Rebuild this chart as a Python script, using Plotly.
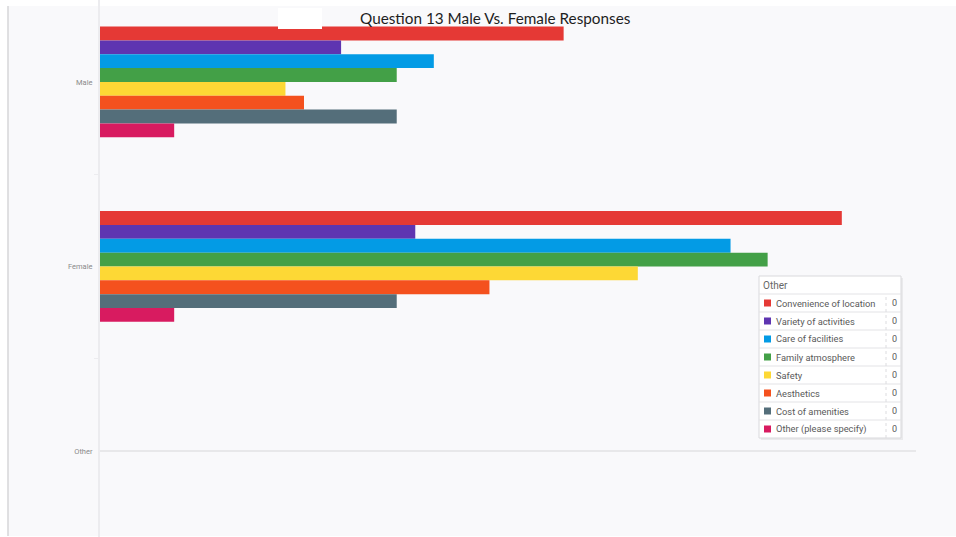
import plotly.graph_objects as go

# Respondent groups (y categories) and answer options (one trace each)
groups = ["Male", "Female", "Other"]
options = [
    "Convenience of location",
    "Variety of activities",
    "Care of facilities",
    "Family atmosphere",
    "Safety",
    "Aesthetics",
    "Cost of amenities",
    "Other (please specify)",
]
male = [25, 13, 18, 16, 10, 11, 16, 4]
female = [40, 17, 34, 36, 29, 21, 16, 4]
other = [0, 0, 0, 0, 0, 0, 0, 0]

colors = ["#e53935", "#5e35b1", "#039be5", "#43a047",
          "#fdd835", "#f4511e", "#546e7a", "#d81b60"]

W, H = 956, 537
ML, MR, MT, MB = 100, 40, 0, 0
PW, PH = W - ML - MR, H - MT - MB


def px(x):
    return (x - ML) / PW


def py(y):
    return 1 - (y - MT) / PH


fig = go.Figure()
for i, name in enumerate(options):
    fig.add_trace(go.Bar(
        y=groups,
        x=[male[i], female[i], other[i]],
        name=name,
        orientation="h",
        marker=dict(color=colors[i], line=dict(width=0)),
        showlegend=False,
    ))

shapes = [
    # page background and left border
    dict(type="rect", xref="paper", yref="paper", x0=px(8), x1=px(W), y0=py(536), y1=py(6),
         fillcolor="#f9f9fb", line=dict(width=0), layer="below"),
    dict(type="line", xref="paper", yref="paper", x0=px(8), x1=px(8), y0=py(536), y1=py(6),
         line=dict(color="#d6d6d9", width=1.5), layer="below"),
    # baseline for the "Other" row
    dict(type="line", xref="x", yref="y", x0=0, x1=44, y0=2, y1=2,
         line=dict(color="#e2e2e5", width=1.5), layer="below"),
    # white patch by the title
    dict(type="rect", xref="paper", yref="paper", x0=px(278), x1=px(322), y0=py(29), y1=py(8),
         fillcolor="white", line=dict(width=0), layer="above"),
]

annotations = [
    dict(text="Question 13 Male Vs. Female Responses", xref="paper", yref="paper",
         x=px(495), y=py(18), xanchor="center", yanchor="middle", showarrow=False,
         font=dict(family="Lato, sans-serif", size=15.3, color="#1e1e1e")),
]

# Hover-style table for the "Other" group
bx0, bx1, by0, by1 = 759, 901, 276, 438
shapes.append(dict(type="rect", xref="paper", yref="paper", x0=px(bx0 + 2), x1=px(bx1 + 2),
                   y0=py(by1 + 2), y1=py(by0 + 2), fillcolor="rgba(0,0,0,0.06)",
                   line=dict(width=0), layer="above"))
shapes.append(dict(type="rect", xref="paper", yref="paper", x0=px(bx0), x1=px(bx1),
                   y0=py(by1), y1=py(by0), fillcolor="white",
                   line=dict(color="#d9d9dc", width=1), layer="above"))
annotations.append(dict(text="Other", xref="paper", yref="paper", x=px(761), y=py(285),
                        xanchor="left", yanchor="middle", showarrow=False,
                        font=dict(family="Roboto, sans-serif", size=10, color="#666")))
row_top = 294
row_h = 18
for i, name in enumerate(options):
    y0 = row_top + i * row_h
    yc = y0 + row_h / 2
    shapes.append(dict(type="line", xref="paper", yref="paper", x0=px(bx0), x1=px(bx1),
                       y0=py(y0), y1=py(y0), line=dict(color="#e3e3e6", width=1), layer="above"))
    shapes.append(dict(type="rect", xref="paper", yref="paper", x0=px(764), x1=px(771),
                       y0=py(yc + 3.5), y1=py(yc - 3.5), fillcolor=colors[i],
                       line=dict(width=0), layer="above"))
    annotations.append(dict(text=name, xref="paper", yref="paper", x=px(774), y=py(yc),
                            xanchor="left", yanchor="middle", showarrow=False,
                            font=dict(family="Roboto, sans-serif", size=9.3, color="#5a5a5a")))
    annotations.append(dict(text=str(other[i]), xref="paper", yref="paper", x=px(894), y=py(yc),
                            xanchor="center", yanchor="middle", showarrow=False,
                            font=dict(family="Roboto, sans-serif", size=9, color="#5a5a5a")))
shapes.append(dict(type="line", xref="paper", yref="paper", x0=px(886), x1=px(886),
                   y0=py(by1), y1=py(row_top), line=dict(color="#dcdcdf", width=1, dash="dot"),
                   layer="above"))

fig.update_layout(
    width=W, height=H,
    margin=dict(l=ML, r=MR, t=MT, b=MB, pad=0),
    paper_bgcolor="white",
    plot_bgcolor="rgba(0,0,0,0)",
    barmode="group",
    bargap=0.4,
    bargroupgap=0,
    shapes=shapes,
    annotations=annotations,
    xaxis=dict(range=[0, 44], visible=False, fixedrange=True),
    yaxis=dict(
        type="category",
        categoryorder="array",
        categoryarray=groups,
        range=[2.466, -0.444],
        showgrid=False,
        zeroline=False,
        showline=True,
        linecolor="#ececef",
        linewidth=2,
        ticks="outside",
        tickson="boundaries",
        ticklen=4,
        tickcolor="#ececef",
        tickfont=dict(family="Roboto, sans-serif", size=7.5, color="#8a8a8a"),
        ticklabelstandoff=4,
    ),
)

fig.write_html("out.html")
